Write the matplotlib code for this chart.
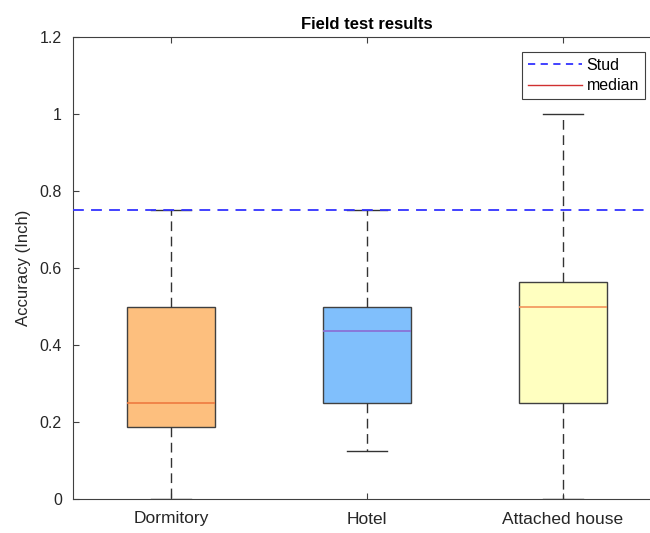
import matplotlib
matplotlib.use("Agg")
import matplotlib.pyplot as plt
from matplotlib.lines import Line2D

plt.rcParams['font.family'] = ['Liberation Sans', 'DejaVu Sans']

categories = ["Dormitory", "Hotel", "Attached house"]
whisker_low = [0.0, 0.125, 0.0]
q1 = [0.1875, 0.25, 0.25]
medians = [0.25, 0.4375, 0.5]
q3 = [0.5, 0.5, 0.5625]
whisker_high = [0.75, 0.75, 1.0]
stud = 0.75

box_colors = ["#FDBF7E", "#80BFFC", "#FFFFC0"]
median_colors = ["#EE7A40", "#8A6BD4", "#F2945A"]

y_ticks = [0, 0.2, 0.4, 0.6, 0.8, 1.0, 1.2]
y_tick_labels = ["0", "0.2", "0.4", "0.6", "0.8", "1", "1.2"]

text_color = "#262626"

fig = plt.figure(figsize=(6.5, 5.33), dpi=100)
ax = fig.add_axes([73 / 650, 1 - 499 / 533, 588 / 650, 462 / 533])

stats = []
for i, name in enumerate(categories):
    stats.append(dict(label=name, whislo=whisker_low[i], q1=q1[i], med=medians[i],
                      q3=q3[i], whishi=whisker_high[i], fliers=[]))

res = ax.bxp(stats, positions=[1, 2, 3], widths=0.45, capwidths=0.2,
             patch_artist=True, showfliers=False,
             boxprops=dict(edgecolor="#404040", linewidth=1.0),
             whiskerprops=dict(color="#333333", linestyle=(0, (7, 4)), linewidth=1.0),
             capprops=dict(color="#333333", linewidth=1.0),
             medianprops=dict(linewidth=1.2))
for patch, c in zip(res['boxes'], box_colors):
    patch.set_facecolor(c)
for med, c in zip(res['medians'], median_colors):
    med.set_color(c)

ax.axhline(stud, color="#3333FF", linestyle=(0, (6, 4)), linewidth=1.3, zorder=5)

ax.set_xlim(0.5, 3.5)
ax.set_ylim(0, 1.2)
ax.set_yticks(y_ticks)
ax.set_yticklabels(y_tick_labels)
ax.set_xticks([1, 2, 3])
ax.set_xticklabels(categories)
ax.tick_params(direction="in", top=True, right=True,
               colors="#404040", labelcolor=text_color, length=4, pad=8)
ax.tick_params(axis="y", labelsize=11.5)
ax.tick_params(axis="x", labelsize=12.5, pad=9)
for s in ax.spines.values():
    s.set_color("#404040")
    s.set_linewidth(0.8)

ax.set_ylabel("Accuracy (Inch)", fontsize=12, color=text_color, labelpad=6)
ax.set_title("Field test results", fontsize=12, fontweight="bold", color="black", pad=6)

handles = [Line2D([], [], color="#3333FF", linestyle=(0, (4, 3)), linewidth=1.3),
           Line2D([], [], color="#D03030", linewidth=1.0)]
leg = ax.legend(handles, ["Stud", "median"], loc="upper left",
                bbox_to_anchor=(522 / 650, 1 - 52 / 533), bbox_transform=fig.transFigure,
                fancybox=False, framealpha=1, edgecolor="#404040", fontsize=11.5,
                handlelength=3.4, handletextpad=0.3, borderpad=0.35, labelspacing=0.35,
                borderaxespad=0)
leg.get_frame().set_linewidth(0.8)

fig.savefig("out.png", dpi=100)
